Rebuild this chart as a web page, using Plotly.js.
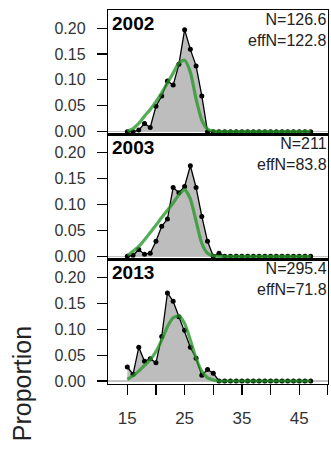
<!DOCTYPE html>
<html><head><meta charset="utf-8">
<script src="https://cdn.plot.ly/plotly-3.0.1.min.js"></script>
<style>html,body{margin:0;padding:0;background:#fff;}#chart{width:331px;height:450px;}</style>
</head><body><div id="chart"></div>
<script>
var lengths = [];
for (var i = 15; i <= 47; i++) lengths.push(i);

var years = ["2002", "2003", "2013"];
var nLabels = ["N=126.6<br>effN=122.8", "N=211<br>effN=83.8", "N=295.4<br>effN=71.8"];

// observed proportions (bins 15..47)
var obs2002 = [0.000,0.000,0.003,0.016,0.008,0.049,0.069,0.098,0.090,0.130,0.197,0.159,0.127,0.069,0.000,0,0,0,0,0,0,0,0,0,0,0,0,0,0,0,0,0,0];
var obs2003 = [0.000,0.002,0.013,0.004,0.006,0.029,0.058,0.072,0.133,0.123,0.135,0.175,0.133,0.077,0.029,0.000,0.006,0,0,0,0,0,0,0,0,0,0,0,0,0,0,0,0];
var obs2013 = [0.027,0.013,0.065,0.038,0.043,0.035,0.086,0.170,0.154,0.124,0.098,0.065,0.044,0.011,0.022,0.015,0.000,0,0,0,0,0,0,0,0,0,0,0,0,0,0,0,0];

// expected proportions (bins 15..47)
var exp2002 = [0.001,0.006,0.016,0.030,0.043,0.058,0.075,0.094,0.113,0.133,0.138,0.115,0.063,0.022,0.005,0.001,0,0,0,0,0,0,0,0,0,0,0,0,0,0,0,0,0];
var exp2003 = [0.002,0.010,0.019,0.032,0.046,0.060,0.075,0.089,0.103,0.119,0.129,0.111,0.068,0.025,0.006,0.001,0,0,0,0,0,0,0,0,0,0,0,0,0,0,0,0,0];
var exp2013 = [0.003,0.010,0.019,0.030,0.041,0.057,0.079,0.105,0.122,0.126,0.111,0.079,0.044,0.019,0.006,0.002,0,0,0,0,0,0,0,0,0,0,0,0,0,0,0,0,0];

var xTickVals = [15,20,25,30,35,40,45,50];
var xTickText = ["15","","25","","35","","45",""];
var yTickVals = [0,0.05,0.1,0.15,0.2];
var yTickText = ["0.00","0.05","0.10","0.15","0.20"];

var obsAll = [obs2002, obs2003, obs2013];
var expAll = [exp2002, exp2003, exp2013];

(function () {
  var FONT = "Liberation Sans, Arial, sans-serif";
  var traces = [];
  var layout = {
    width: 331, height: 450,
    margin: {l: 108, r: 3, t: 10, b: 66},
    paper_bgcolor: "#fff", plot_bgcolor: "#fff",
    showlegend: false,
    font: {family: FONT, color: "#000"},
    annotations: []
  };
  for (var p = 0; p < 3; p++) {
    var sfx = p === 0 ? "" : String(p + 1);
    var xa = "x" + sfx, ya = "y" + sfx;
    traces.push({x: lengths, y: obsAll[p], xaxis: xa, yaxis: ya, type: "scatter", mode: "lines+markers",
      fill: "tozeroy", fillcolor: "#bdbdbd", line: {color: "#000", width: 1.3},
      marker: {color: "#000", size: 5}, hoverinfo: "skip"});
    traces.push({x: lengths, y: expAll[p], xaxis: xa, yaxis: ya, type: "scatter", mode: "lines",
      line: {color: "rgba(40,150,40,0.78)", width: 3.2, shape: "spline", smoothing: 0.6}, hoverinfo: "skip"});
    var dTop = 1 - p / 3, dBot = 1 - (p + 1) / 3;
    var isBottom = (p === 2);
    layout["xaxis" + sfx] = {
      domain: [0, 1], anchor: ya, range: [11.63, 50.02],
      showline: true, mirror: true, linecolor: "#000", linewidth: 1.2,
      showgrid: false, zeroline: false,
      tickmode: "array", tickvals: xTickVals, ticktext: xTickText,
      ticks: isBottom ? "outside" : "", ticklen: 10, tickcolor: "#000", tickwidth: 1.2,
      showticklabels: isBottom, ticklabelstandoff: 8,
      tickfont: {family: FONT, size: 17, color: "#333"}
    };
    layout["yaxis" + sfx] = {
      domain: [dBot, dTop], anchor: xa, range: [-0.0058, 0.235],
      showline: true, mirror: true, linecolor: "#000", linewidth: 1.2,
      showgrid: false, zeroline: true, zerolinecolor: "#c4c4c4", zerolinewidth: 1.2,
      tickmode: "array", tickvals: yTickVals, ticktext: yTickText,
      ticks: "outside", ticklen: 10, tickcolor: "#000", tickwidth: 1.2,
      ticklabelstandoff: 8,
      tickfont: {family: FONT, size: 16, color: "#333"}
    };
    layout.annotations.push({xref: xa + " domain", yref: ya + " domain", x: 0.01, y: 0.995,
      xanchor: "left", yanchor: "top", showarrow: false, text: "<b>" + years[p] + "</b>",
      font: {family: FONT, size: 19, color: "#000"}});
    layout.annotations.push({xref: xa + " domain", yref: ya + " domain", x: 1.005, y: 1.01,
      xanchor: "right", yanchor: "top", align: "right", showarrow: false, text: nLabels[p],
      font: {family: FONT, size: 16, color: "#222"}});
  }
  layout.annotations.push({xref: "paper", yref: "paper", x: -0.39, y: 0.0,
    xanchor: "center", yanchor: "middle", textangle: -90, showarrow: false,
    text: "Proportion", font: {family: FONT, size: 25, color: "#222"}});

  Plotly.newPlot("chart", traces, layout, {displayModeBar: false, staticPlot: true});
})();
</script></body></html>
